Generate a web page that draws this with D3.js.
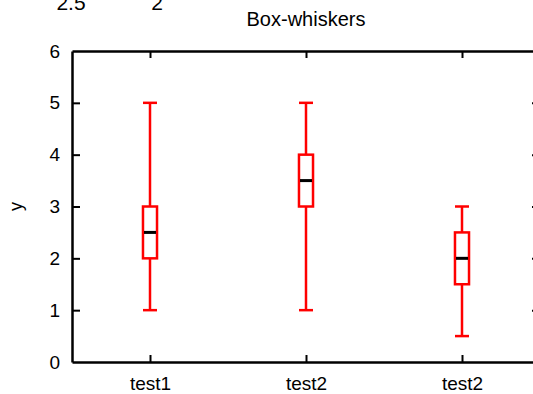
<!DOCTYPE html>
<html>
<head>
<meta charset="utf-8">
<script src="https://cdn.jsdelivr.net/npm/d3@7"></script>
<style>
  html, body { margin: 0; padding: 0; background: #fff; overflow: hidden; }
  svg { display: block; font-family: "Liberation Sans", Arial, sans-serif; }
</style>
</head>
<body>
<svg id="chart" width="533" height="394"></svg>
<script>
// Box-and-whisker statistics, one entry per category
const categories = ["test1", "test2", "test2"];
const whiskerLow  = [1, 1, 0.5];
const quartileLow = [2, 3, 1.5];
const medians     = [2.5, 3.5, 2];
const quartileHigh = [3, 4, 2.5];
const whiskerHigh = [5, 5, 3];
const yTicks = [0, 1, 2, 3, 4, 5, 6];
const headerLabels = ["2.5", "2"];

const svg = d3.select("#chart");
const frame = { left: 72, right: 540, top: 51, bottom: 362 };

const x = d3.scaleLinear().domain([0.5, 3.5]).range([frame.left, frame.right]);
const y = d3.scaleLinear().domain([0, 6]).range([frame.bottom, frame.top]);
const halfBox = 0.045; // half box width, in category units
const tickLen = 8;
const axisColor = "#000";

const rows = categories.map((c, i) => ({
  pos: i + 1, name: c,
  lo: whiskerLow[i], q1: quartileLow[i], med: medians[i],
  q3: quartileHigh[i], hi: whiskerHigh[i]
}));

// Header labels sitting on the top edge
svg.selectAll("text.header").data(headerLabels).enter().append("text")
  .attr("class", "header")
  .attr("x", (d, i) => [71, 157][i])
  .attr("y", 10)
  .attr("text-anchor", "middle")
  .style("font-size", "21px")
  .text(d => d);

// Title
svg.append("text")
  .attr("x", x(2)).attr("y", 26)
  .attr("text-anchor", "middle")
  .style("font-size", "20px")
  .text("Box-whiskers");

// Axes with inward ticks on all four sides
const axisL = d3.axisLeft(y).tickValues(yTicks).tickSizeInner(-tickLen).tickSizeOuter(0).tickPadding(12).tickFormat(d3.format("d"));
const axisR = d3.axisRight(y).tickValues(yTicks.slice(1, -1)).tickSizeInner(-tickLen).tickSizeOuter(0).tickFormat("");
const axisB = d3.axisBottom(x).tickValues(rows.map(r => r.pos)).tickSizeInner(-7).tickSizeOuter(0).tickPadding(15)
  .tickFormat((d, i) => categories[i]);
const axisT = d3.axisTop(x).tickValues(rows.map(r => r.pos)).tickSizeInner(-7).tickSizeOuter(0).tickFormat("");

const gl = svg.append("g").attr("transform", `translate(${frame.left},0)`).call(axisL);
const gr = svg.append("g").attr("transform", `translate(${frame.right},0)`).call(axisR);
const gb = svg.append("g").attr("transform", `translate(0,${frame.bottom})`).call(axisB);
const gt = svg.append("g").attr("transform", `translate(0,${frame.top})`).call(axisT);

[gl, gr, gb, gt].forEach(g => {
  g.select(".domain").attr("stroke", axisColor).attr("stroke-width", 2.5);
  g.selectAll(".tick line").attr("stroke", axisColor).attr("stroke-width", 2);
  g.selectAll(".tick text").attr("fill", "#000").style("font-size", "19px")
    .style("font-family", "'Liberation Sans', Arial, sans-serif");
});
gl.selectAll(".tick").filter(d => d === 0 || d === 6).select("line").remove();
gb.selectAll(".tick text").attr("dy", "0.71em");

// Y axis label
svg.append("text")
  .attr("transform", `translate(22,${y(3)}) rotate(-90)`)
  .attr("text-anchor", "middle")
  .style("font-size", "18px")
  .text("y");

// Boxes and whiskers
const box = svg.append("g").selectAll("g").data(rows).enter().append("g");
const red = "#ff0000";

box.append("line") // lower whisker
  .attr("x1", d => x(d.pos)).attr("x2", d => x(d.pos))
  .attr("y1", d => y(d.lo)).attr("y2", d => y(d.q1))
  .attr("stroke", red).attr("stroke-width", 2.5);
box.append("line") // upper whisker
  .attr("x1", d => x(d.pos)).attr("x2", d => x(d.pos))
  .attr("y1", d => y(d.q3)).attr("y2", d => y(d.hi))
  .attr("stroke", red).attr("stroke-width", 2.5);
["lo", "hi"].forEach(k => {
  box.append("line") // whisker caps
    .attr("x1", d => x(d.pos - halfBox)).attr("x2", d => x(d.pos + halfBox))
    .attr("y1", d => y(d[k])).attr("y2", d => y(d[k]))
    .attr("stroke", red).attr("stroke-width", 2.5);
});
box.append("rect")
  .attr("x", d => x(d.pos - halfBox))
  .attr("width", d => x(d.pos + halfBox) - x(d.pos - halfBox))
  .attr("y", d => y(d.q3))
  .attr("height", d => y(d.q1) - y(d.q3))
  .attr("fill", "none").attr("stroke", red).attr("stroke-width", 2.5);
box.append("line") // median
  .attr("x1", d => x(d.pos - halfBox) + 1).attr("x2", d => x(d.pos + halfBox) - 1)
  .attr("y1", d => y(d.med)).attr("y2", d => y(d.med))
  .attr("stroke", "#000").attr("stroke-width", 3);
</script>
</body>
</html>
